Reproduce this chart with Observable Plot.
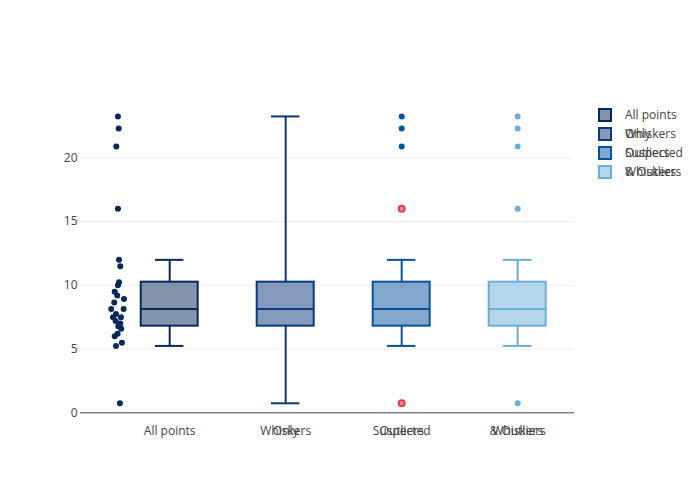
<!DOCTYPE html>
<html><head><meta charset="utf-8">
<script src="https://cdn.jsdelivr.net/npm/d3@7"></script>
<script src="https://cdn.jsdelivr.net/npm/@observablehq/plot@0.6"></script>
<style>
body{margin:0;background:#fff;font-family:"Open Sans",sans-serif}
#wrap{position:relative;width:700px;height:500px}
.leg{position:absolute;left:597px;font-size:12px;color:#444;font-family:"Open Sans",sans-serif}
.leg .sw{position:absolute;left:1px;width:10px;height:10px;border:2px solid}
.leg .tx{position:absolute;left:28px;white-space:nowrap;line-height:16px}
</style>
</head><body><div id="wrap"></div>
<script>
// data (same for all four traces)
const values = [0.75, 5.25, 5.5, 6, 6.2, 6.6, 6.8, 7.0, 7.2, 7.5, 7.5, 7.75, 8.15, 8.15, 8.65, 8.93, 9.2, 9.5, 10, 10.25, 11.5, 12, 16, 20.9, 22.3, 23.25];
// horizontal jitter of the "All points" dots (category units)
const jitter = [0.017, -0.017, 0.034, -0.028, -0.003, 0.028, 0.003, 0.020, -0.020, -0.043, 0.026, -0.017, -0.058, 0.049, -0.032, 0.052, -0.006, -0.028, 0.000, 0.009, 0.020, 0.009, 0.000, -0.014, 0.006, 0.000];
const traceNames = ["All points", "Only\nWhiskers", "Suspected\nOutliers", "Whiskers\n& Outliers"];
const traceColors = ["rgb(7,40,89)", "rgb(9,56,125)", "rgb(8,81,156)", "rgb(107,174,214)"];
const traceFills = ["rgba(7,40,89,0.5)", "rgba(9,56,125,0.5)", "rgba(8,81,156,0.5)", "rgba(107,174,214,0.5)"];
const pointModes = ["all", "none", "suspected", "outliers"];
const outlierFill = "rgba(219,64,82,0.6)";
const outlierStroke = "rgba(219,64,82,1)";
const yTicks = [0, 5, 10, 15, 20];

const boxHalf = 0.2457, capHalf = 0.1228, pointPos = -0.446;

function interp(arr, q) {
  const n = q * arr.length - 0.5;
  if (n <= 0) return arr[0];
  if (n >= arr.length - 1) return arr[arr.length - 1];
  const i = Math.floor(n), f = n - i;
  return arr[i] * (1 - f) + arr[i + 1] * f;
}
const sorted = values.slice().sort((a, b) => a - b);
const stats = traceNames.map((name, i) => {
  const q1 = interp(sorted, 0.25), med = interp(sorted, 0.5), q3 = interp(sorted, 0.75);
  const iqr = q3 - q1;
  let lo, hi;
  if (pointModes[i] === "none") { lo = d3.min(sorted); hi = d3.max(sorted); }
  else {
    lo = d3.min(sorted.filter(v => v >= q1 - 1.5 * iqr));
    hi = d3.max(sorted.filter(v => v <= q3 + 1.5 * iqr));
  }
  return {i, q1, med, q3, lo, hi, iqr, color: traceColors[i], fill: traceFills[i]};
});

const pts = [], redPts = [];
stats.forEach(s => {
  const mode = pointModes[s.i];
  if (mode === "all") {
    values.forEach((v, k) => pts.push({x: s.i + pointPos + jitter[k], y: v, c: s.color}));
  } else if (mode === "outliers" || mode === "suspected") {
    values.forEach(v => {
      if (v < s.q1 - 1.5 * s.iqr || v > s.q3 + 1.5 * s.iqr) {
        const susp = v < 4 * s.q1 - 3 * s.q3 || v > 4 * s.q3 - 3 * s.q1;
        if (mode === "suspected" && !susp) redPts.push({x: s.i, y: v});
        else pts.push({x: s.i, y: v, c: s.color});
      }
    });
  }
});

const idx = traceNames.map((d, i) => i);
const chart = Plot.plot({
  width: 700, height: 500,
  marginLeft: 80, marginRight: 126, marginTop: 100, marginBottom: 80,
  style: {fontFamily: "Open Sans, sans-serif", fontSize: "12px", color: "#444", background: "#fff"},
  x: {type: "linear", domain: [-0.769, 3.49], axis: null},
  y: {domain: [-0.6, 24.5], axis: null},
  color: {type: "identity"},
  marks: [
    Plot.ruleY(yTicks.filter(d => d !== 0), {stroke: "#eee", strokeWidth: 1}),
    Plot.ruleY([0], {stroke: "#444", strokeWidth: 1}),
    Plot.axisY({ticks: yTicks, tickSize: 0, tickPadding: 3, label: null, fill: "#444", fontSize: 12}),
    Plot.axisX({ticks: idx, tickSize: 0, tickPadding: 6, label: null, fill: "#444", fontSize: 12,
      tickFormat: i => traceNames[i].split("\n")[0]}),
    Plot.axisX({ticks: idx, tickSize: 0, tickPadding: 6, label: null, fill: "#444", fontSize: 12,
      tickFormat: i => traceNames[i].split("\n")[1] || ""}),
    Plot.ruleX(stats, {x: "i", y1: "lo", y2: "q1", stroke: "color", strokeWidth: 2}),
    Plot.ruleX(stats, {x: "i", y1: "q3", y2: "hi", stroke: "color", strokeWidth: 2}),
    Plot.ruleY(stats, {y: "lo", x1: d => d.i - capHalf, x2: d => d.i + capHalf, stroke: "color", strokeWidth: 2}),
    Plot.ruleY(stats, {y: "hi", x1: d => d.i - capHalf, x2: d => d.i + capHalf, stroke: "color", strokeWidth: 2}),
    Plot.rect(stats, {x1: d => d.i - boxHalf, x2: d => d.i + boxHalf, y1: "q1", y2: "q3", fill: "fill", stroke: "color", strokeWidth: 2}),
    Plot.ruleY(stats, {y: "med", x1: d => d.i - boxHalf, x2: d => d.i + boxHalf, stroke: "color", strokeWidth: 2}),
    Plot.dot(pts, {x: "x", y: "y", r: 3, fill: "c", stroke: null}),
    Plot.dot(redPts, {x: "x", y: "y", r: 3, fill: outlierFill, stroke: outlierStroke, strokeWidth: 2})
  ]
});
const wrap = document.getElementById("wrap");
wrap.appendChild(chart);

// legend
traceNames.forEach((name, i) => {
  const row = document.createElement("div");
  row.className = "leg";
  row.style.top = (108 + i * 19) + "px";
  const sw = document.createElement("div");
  sw.className = "sw";
  sw.style.borderColor = traceColors[i];
  sw.style.background = traceFills[i];
  sw.style.top = "0px";
  row.appendChild(sw);
  name.split("\n").forEach(line => {
    const t = document.createElement("span");
    t.className = "tx";
    t.style.top = "-1px";
    t.textContent = line;
    row.appendChild(t);
  });
  wrap.appendChild(row);
});
</script>
</body></html>
